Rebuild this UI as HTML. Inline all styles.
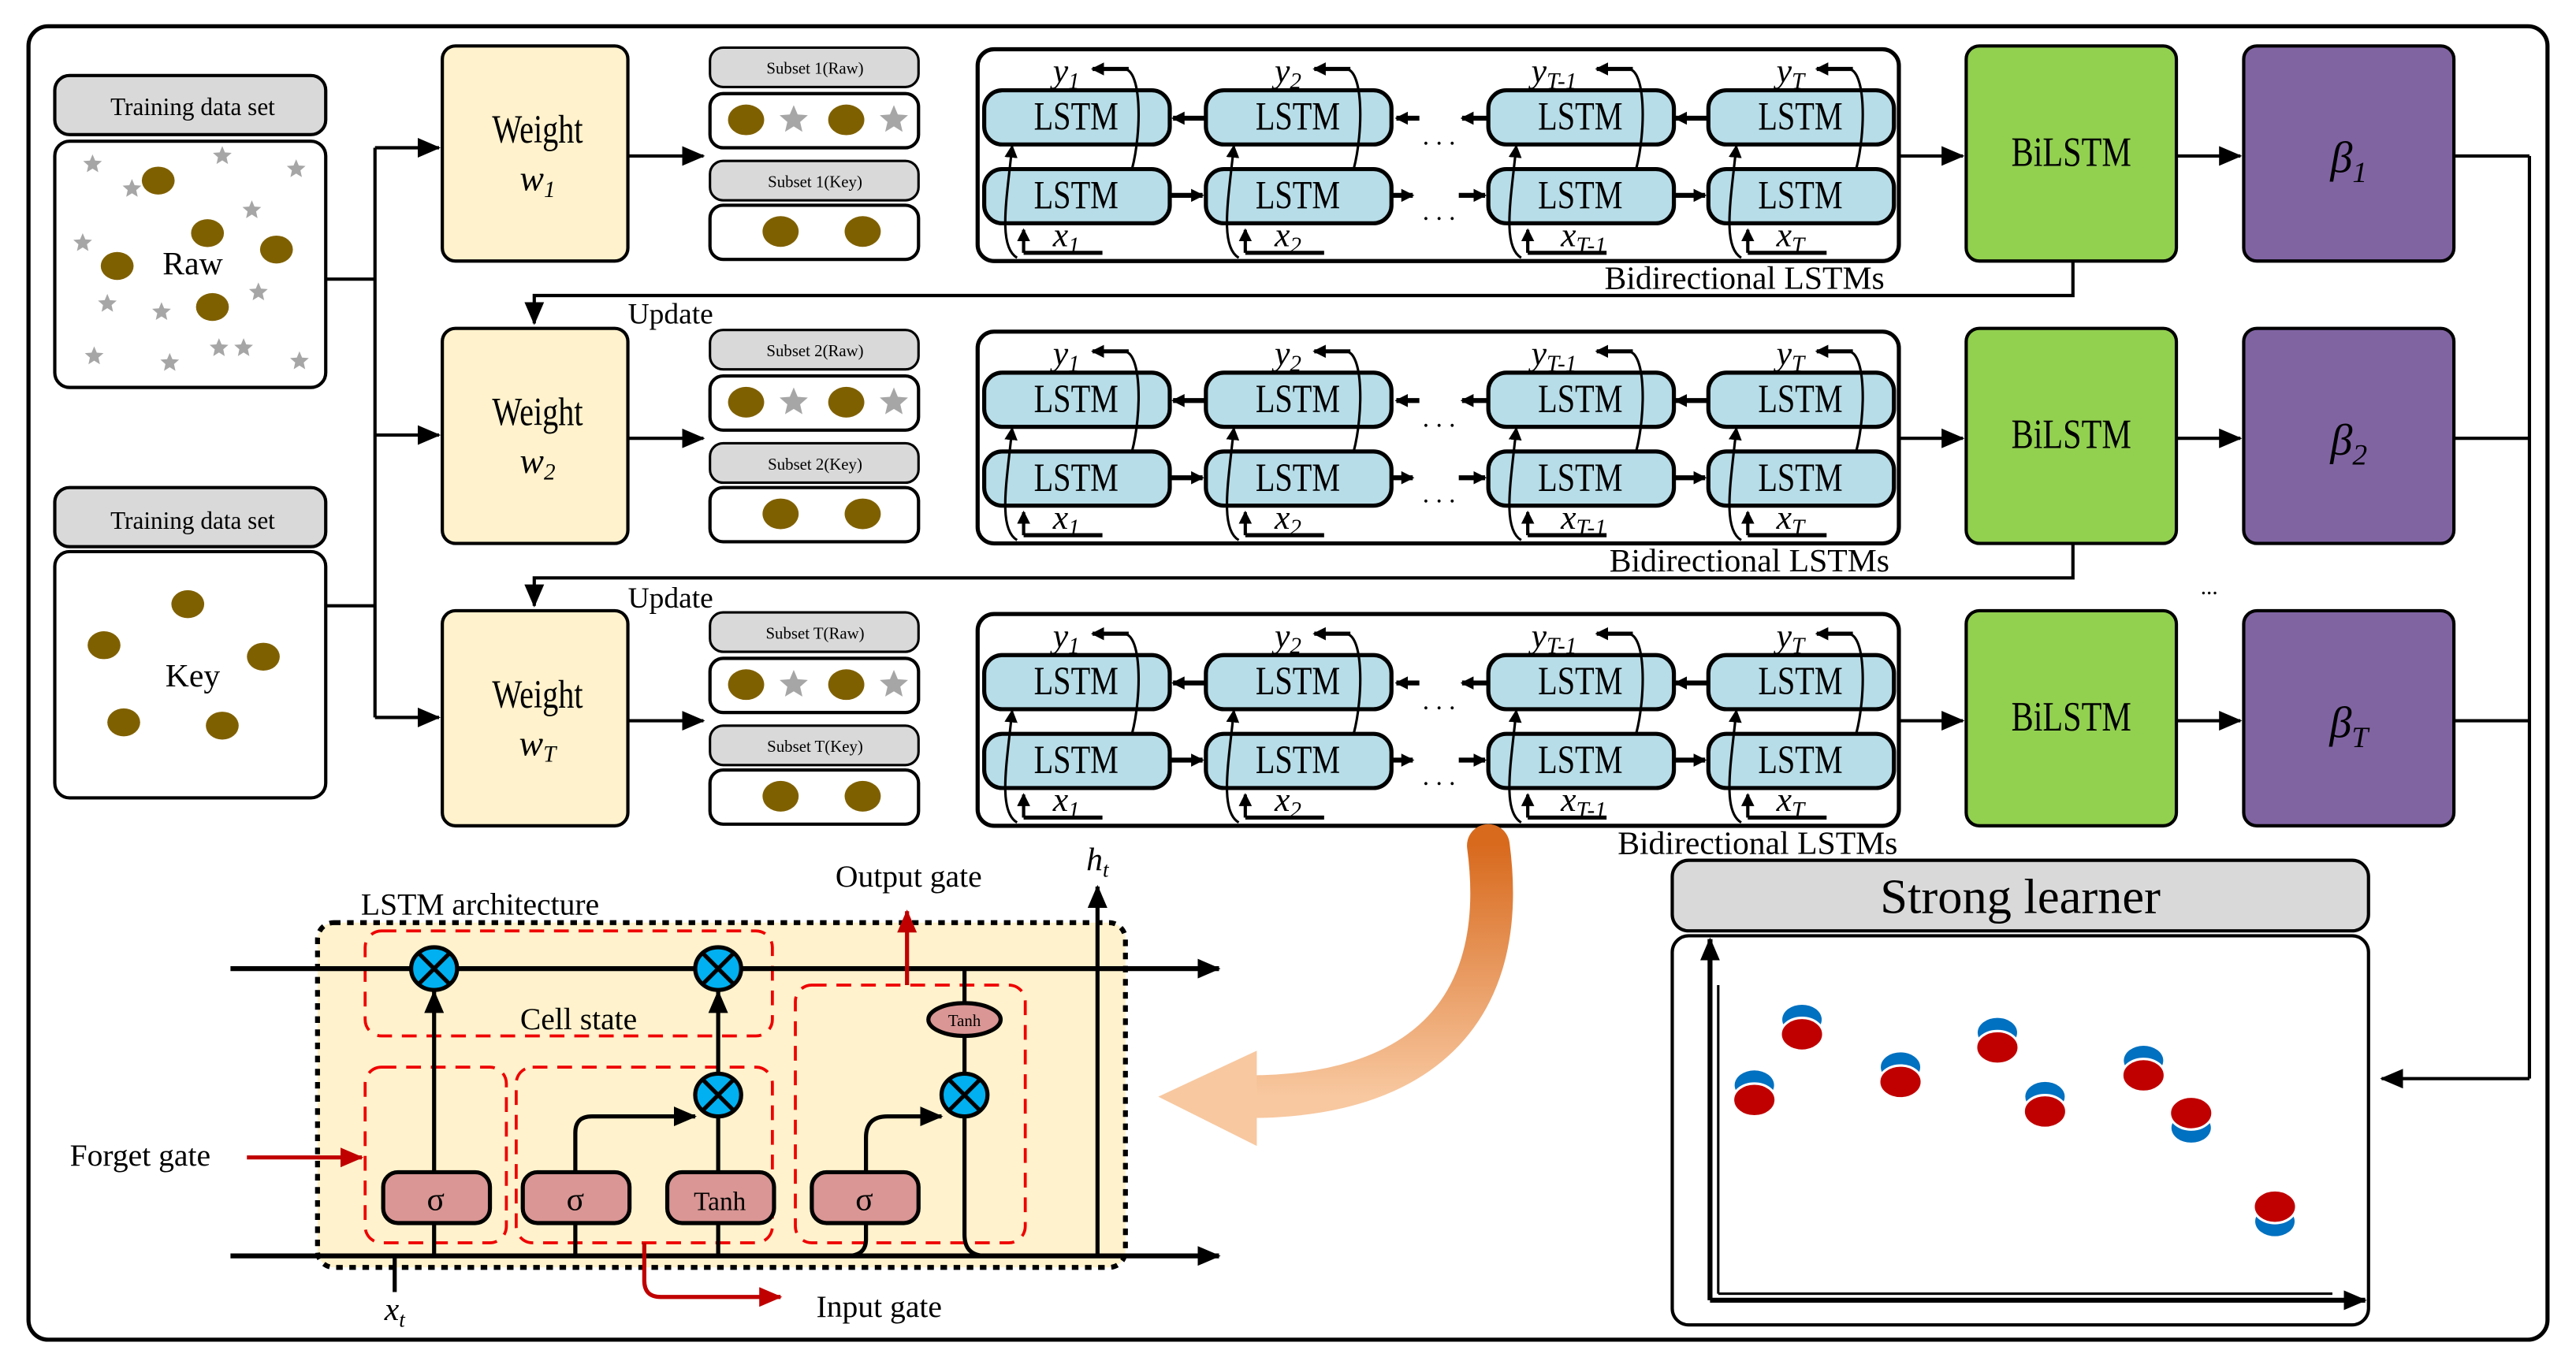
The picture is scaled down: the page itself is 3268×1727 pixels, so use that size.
<!DOCTYPE html>
<html><head><meta charset="utf-8"><style>
html,body{margin:0;padding:0;background:#fff;}
svg{display:block;}
text{font-family:"Liberation Serif",serif;}
</style></head><body>
<svg id="s" width="3268" height="1727" viewBox="0 0 1568 829" xmlns="http://www.w3.org/2000/svg">
<defs>
<marker id="a" markerWidth="8" markerHeight="8" refX="7" refY="4" orient="auto" markerUnits="userSpaceOnUse"><path d="M0,0 L8,4 L0,8 z" fill="#000"/></marker>
<marker id="ab" markerWidth="14" markerHeight="12" refX="13" refY="6" orient="auto" markerUnits="userSpaceOnUse"><path d="M0,0 L14,6 L0,12 z" fill="#000"/></marker>
<marker id="ar" markerWidth="14" markerHeight="12" refX="13" refY="6" orient="auto" markerUnits="userSpaceOnUse"><path d="M0,0 L14,6 L0,12 z" fill="#c00000"/></marker>
<linearGradient id="og" x1="0" y1="0" x2="0" y2="1"><stop offset="0" stop-color="#d86a1e"/><stop offset="1" stop-color="#f8c8a0"/></linearGradient>
</defs>
<rect x="17" y="16" width="1534" height="800" rx="12" fill="#fff" stroke="#000" stroke-width="2.5"/>
<g id="g"></g>
</svg>
<script>
var o='';
function R(x,y,w,h,rx,f,sw,extra){o+='<rect x="'+x+'" y="'+y+'" width="'+w+'" height="'+h+'" rx="'+rx+'" fill="'+f+'" stroke="#000" stroke-width="'+(sw||2)+'" '+(extra||'')+'/>';}
function T(x,y,s,t,extra){o+='<text x="'+x+'" y="'+y+'" font-size="'+s+'" text-anchor="middle" '+(extra||'')+'>'+t+'</text>';}
function TS(x,y,s,t){o+='<g transform="translate('+x+','+y+') scale(0.92,1.15)"><text x="0" y="0" font-size="'+s+'" text-anchor="middle">'+t+'</text></g>';}
function L(d,m,sw,c){o+='<path d="'+d+'" fill="none" stroke="'+(c||'#000')+'" stroke-width="'+(sw||2)+'" '+(m?'marker-end="url(#'+m+')"':'')+'/>';}
function star(cx,cy,r){var p=[];for(var i=0;i<10;i++){var a=-Math.PI/2+i*Math.PI/5,rr=i%2?r*0.45:r;p.push((cx+rr*Math.cos(a)).toFixed(1)+','+(cy+rr*Math.sin(a)).toFixed(1));}o+='<polygon points="'+p.join(' ')+'" fill="#a6a6a6"/>';}
function dot(cx,cy,r){o+='<ellipse cx="'+cx+'" cy="'+cy+'" rx="'+r+'" ry="'+(r*0.85)+'" fill="#7f6000"/>';}
R(33,46,165,36,9,'#d9d9d9',2);T(117,70,15,'Training data set');
R(33,86,165,150,9,'#fff',2);T(117,167,20,'Raw');
[[56,100],[135,95],[180,103],[80,115],[153,128],[50,148],[65,185],[157,178],[98,190],[133,212],[148,212],[57,217],[103,221],[182,220]].forEach(function(p){star(p[0],p[1],6);});
[[96,110],[126,142],[168,152],[71,162],[129,187]].forEach(function(p){dot(p[0],p[1],10);});
R(33,297,165,36,9,'#d9d9d9',2);T(117,322,15,'Training data set');
R(33,336,165,150,9,'#fff',2);T(117,418,20,'Key');
[[114,368],[63,393],[160,400],[75,440],[135,442]].forEach(function(p){dot(p[0],p[1],10);});
L('M198,170 H228 M198,369 H228 M228,90 V437');
L('M228,90 H267','ab');L('M228,265 H267','ab');L('M228,437 H267','ab');
var subs=['1','2','T'],bsub=['1','2','T'];
for(var r=0;r<3;r++){
 var dy=r*172;
 R(269,28+dy,113,131,8,'#fff2cc',2);TS(327,87+dy,21,'Weight');
 T(327,116+dy,22,'w<tspan font-size="14" dy="4">'+bsub[r]+'</tspan>','font-style="italic"');
 L('M382,'+(95+dy)+' H428','ab');
 R(432,29+dy,127,24,8,'#d9d9d9',1.5);T(496,45+dy,10,'Subset '+subs[r]+'(Raw)');
 R(432,57+dy,127,33,8,'#fff',2);dot(454,73+dy,11);star(483,73+dy,9);dot(515,73+dy,11);star(544,73+dy,9);
 R(432,98+dy,127,24,8,'#d9d9d9',1.5);T(496,114+dy,10,'Subset '+subs[r]+'(Key)');
 R(432,125+dy,127,33,8,'#fff',2);dot(475,141+dy,11);dot(525,141+dy,11);
 R(595,30+dy,561,129,10,'#fff',2.5);
 var cols=[599,734,906,1040],ys=['1','2','T-1','T'];
 for(var c=0;c<4;c++){
  var x=cols[c];
  R(x,55+dy,113,33,11,'#b7dde8',2.5);TS(x+56,79+dy,21,'LSTM');
  R(x,103+dy,113,33,11,'#b7dde8',2.5);TS(x+56,127+dy,21,'LSTM');
  L('M'+(x+20)+','+(157+dy)+' C'+(x+8)+','+(150+dy)+' '+(x+14)+','+(120+dy)+' '+(x+17)+','+(89+dy),'a',1.5);
  L('M'+(x+24)+','+(154+dy)+' V'+(140+dy),'a',2);
  L('M'+(x+24)+','+(154+dy)+' H'+(x+72),'',2.5);
  T(x+(c==2?58:50),150+dy,21,'x<tspan font-size="14" dy="4">'+ys[c]+'</tspan>','font-style="italic"');
  L('M'+(x+90)+','+(103+dy)+' C'+(x+96)+','+(80+dy)+' '+(x+96)+','+(42+dy)+' '+(x+85)+','+(42+dy),'',1.5);
  L('M'+(x+88)+','+(42+dy)+' H'+(x+66),'a',2.5);
  T(x+(c==2?40:50),50+dy,21,'y<tspan font-size="14" dy="4">'+ys[c]+'</tspan>','font-style="italic"');
 }
 L('M734,'+(72+dy)+' H714','a',3);L('M1040,'+(72+dy)+' H1020','a',3);
 L('M712,'+(119+dy)+' H732','a',3);L('M1018,'+(119+dy)+' H1038','a',3);
 L('M864,'+(72+dy)+' H850','a',3);L('M906,'+(72+dy)+' H890','a',3);
 L('M846,'+(119+dy)+' H860','a',3);L('M888,'+(119+dy)+' H904','a',3);
 T(876,88+dy,16,'. . .');T(876,134+dy,16,'. . .');
 T(1062+(r?3:0)+(r==2?5:0),176+dy,20,'Bidirectional LSTMs');
 L('M1156,'+(95+dy)+' H1195','ab');
 R(1197,28+dy,128,131,8,'#92d050',2);TS(1261,101+dy,22,'BiLSTM');
 L('M1325,'+(95+dy)+' H1364','ab');
 R(1366,28+dy,128,131,8,'#8064a2',2);
 T(1430,105+dy,27,'β<tspan font-size="18" dy="6">'+bsub[r]+'</tspan>','font-style="italic"');
 L('M1494,'+(95+dy)+' H1540');
}
L('M1540,95 V657');L('M1540,657 H1450','ab');
L('M1262,159 V180 H325 V197','ab');T(408,197,18,'Update');
L('M1262,331 V352 H325 V369','ab');T(408,370,18,'Update');
T(1345,362,14,'...');
R(1018,524,424,43,10,'#d9d9d9',2);T(1230,556,30,'Strong learner');
R(1018,570,424,237,10,'#fff',2);
L('M1041,792 V572','ab',3);L('M1041,792 H1440','ab',3);L('M1046,788 V600 M1046,788 H1420','',1.5);
[[1068,668,1],[1097,628,1],[1157,657,1],[1216,636,1],[1245,675,1],[1305,653,1],[1334,680,0],[1385,737,0]].forEach(function(p){
 if(p[2]){o+='<ellipse cx="'+p[0]+'" cy="'+(p[1]-7)+'" rx="12" ry="9" fill="#0070c0"/><ellipse cx="'+p[0]+'" cy="'+(p[1]+2)+'" rx="13" ry="10" fill="#c00000" stroke="#fff" stroke-width="1.5"/>';}
 else{o+='<ellipse cx="'+p[0]+'" cy="'+(p[1]+7)+'" rx="12" ry="9" fill="#0070c0"/><ellipse cx="'+p[0]+'" cy="'+(p[1]-2)+'" rx="13" ry="10" fill="#c00000" stroke="#fff" stroke-width="1.5"/>';}
});
o+='<path d="M906,515 C920,620 860,668 760,668" fill="none" stroke="url(#og)" stroke-width="26" stroke-linecap="round"/>';
o+='<path d="M765,640 L705,668 L765,698 z" fill="#f8c8a0"/>';
o+='<rect x="193" y="562" width="492" height="210" rx="10" fill="#fff2cc" stroke="#000" stroke-width="3" stroke-dasharray="4,4"/>';
var rd='fill="none" stroke="#e00" stroke-width="1.8" stroke-dasharray="9,6"';
o+='<rect x="222" y="567" width="248" height="64" rx="10" '+rd+'/>';
o+='<rect x="222" y="650" width="86" height="107" rx="10" '+rd+'/>';
o+='<rect x="314" y="650" width="156" height="107" rx="10" '+rd+'/>';
o+='<rect x="484" y="600" width="140" height="157" rx="10" '+rd+'/>';
T(292,557,19,'LSTM architecture');T(352,627,19,'Cell state');T(553,540,19,'Output gate');
T(85,710,19,'Forget gate');T(535,802,19,'Input gate');
T(240,804,20,'x<tspan font-size="13" dy="4">t</tspan>','font-style="italic"');
T(668,530,20,'h<tspan font-size="13" dy="4">t</tspan>','font-style="italic"');
L('M140,590 H742','ab',3);L('M140,765 H742','ab',3);
L('M668,765 V540','ab',2.5);L('M240,765 V787','',2.5);
L('M552,600 V555','ar',2.5,'#c00000');L('M150,705 H220','ar',2.5,'#c00000');
L('M392,757 V780 Q392,790 402,790 H475','ar',2.5,'#c00000');
L('M264,714 V604','ab',2.5);L('M437,654 V604','ab',2.5);
L('M350,714 V690 Q350,680 360,680 H423','ab',2.5);
L('M527,714 V693 Q527,680 540,680 H573','ab',2.5);
L('M437,714 V680',0,2.5);L('M587,590 V611 M587,631 V654',0,2.5);
L('M587,680 V752 Q587,765 600,765',0,2.5);
L('M264,745 V765 M350,745 V765 M437,745 V765',0,2.5);
L('M527,745 V755 Q527,765 515,765',0,2.5);
function X(cx,cy){o+='<ellipse cx="'+cx+'" cy="'+cy+'" rx="14" ry="13" fill="#00b0f0" stroke="#000" stroke-width="2.5"/><path d="M'+(cx-9)+','+(cy-9)+' L'+(cx+9)+','+(cy+9)+' M'+(cx+9)+','+(cy-9)+' L'+(cx-9)+','+(cy+9)+'" stroke="#000" stroke-width="2.5"/>';}
X(264,590);X(437,590);X(437,667);X(587,667);
[[233,'σ'],[318,'σ'],[406,'Tanh'],[494,'σ']].forEach(function(p){R(p[0],714,65,31,9,'#d99694',2.5);T(p[0]+32,737,p[1]=='Tanh'?16:20,p[1]);});
o+='<ellipse cx="587" cy="621" rx="22" ry="10" fill="#d99694" stroke="#000" stroke-width="2.5"/>';T(587,625,10,'Tanh');
document.getElementById('g').innerHTML=o;
</script>
</body></html>
